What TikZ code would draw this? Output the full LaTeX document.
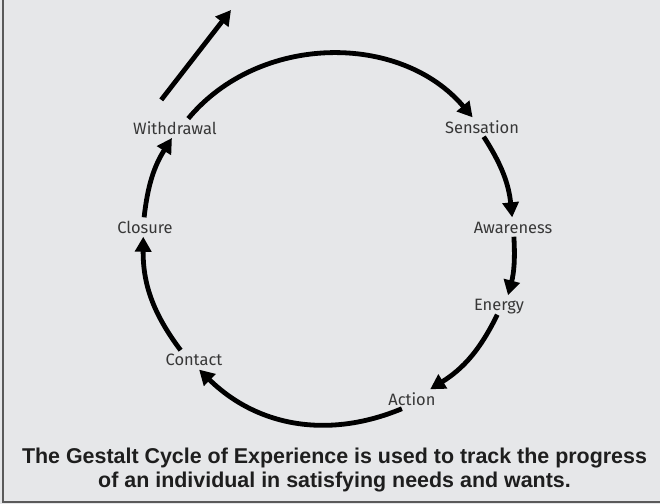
\documentclass[tikz,border=0pt]{standalone}
\usepackage{fontspec}
\setmainfont{Fira Sans}
\newfontfamily\arialfont{Liberation Sans}
\usetikzlibrary{arrows.meta}
\definecolor{panelgrey}{RGB}{230,231,233}
\definecolor{framegrey}{RGB}{90,90,90}
\definecolor{labelgrey}{RGB}{55,55,55}
\definecolor{captiongrey}{RGB}{30,30,30}

\begin{document}
\begin{tikzpicture}[x=1bp, y=1bp, >={Triangle[length=15bp,width=16bp]},
  stage/.style={font=\fontsize{16.5}{18}\selectfont, text=labelgrey, inner sep=3.5bp, text height=12bp, text depth=0bp},
  cyc/.style={->, line width=4.8bp},
  caption/.style={font=\arialfont\bfseries\fontsize{21.5}{24}\selectfont, text=captiongrey, align=center, inner sep=0pt}]
\fill[panelgrey] (-329,-267) rectangle (331,237);
\useasboundingbox (-329,-267) rectangle (331,237);
\draw[framegrey, line width=2bp] (-326,237) -- (-326,-265) -- (331,-265);

\node[stage] (withdrawal) at (144.8:188.6) {Withdrawal};
\node[stage] (sensation) at (35.7:188.4) {Sensation};
\node[stage] (awareness) at (3.1:184.3) {Awareness};
\node[stage] (energy) at (-21.8:183.1) {Energy};
\node[stage] (action) at (-62.9:182) {Action};
\node[stage] (contact) at (-137.7:182.6) {Contact};
\node[stage] (closure) at (176.9:184.3) {Closure};
\coordinate (exit) at (-98,227);

\draw[cyc] (withdrawal.36) to[bend left=50] (sensation.134);
\draw[cyc] (sensation.-80) to[bend left=13.5] (awareness.95);
\draw[cyc] (awareness.-85) to[bend left=9] (energy.47);
\draw[cyc] (energy.-100) to[bend left=16] (action.28);
\draw[cyc] (action.224) to[bend left=33.5] (contact.-62);
\draw[cyc] (contact.144) to[bend left=18.7] (closure.-100);
\draw[cyc] (closure.95) to[bend left=13] (withdrawal.-107);
\draw[cyc, shorten <=23.7bp] (withdrawal.161) -- (exit);

\node[caption] (caption) at (5.5,-233) {The Gestalt Cycle of Experience is used to track the progress\\of an individual in satisfying needs and wants.};
\end{tikzpicture}
\end{document}
